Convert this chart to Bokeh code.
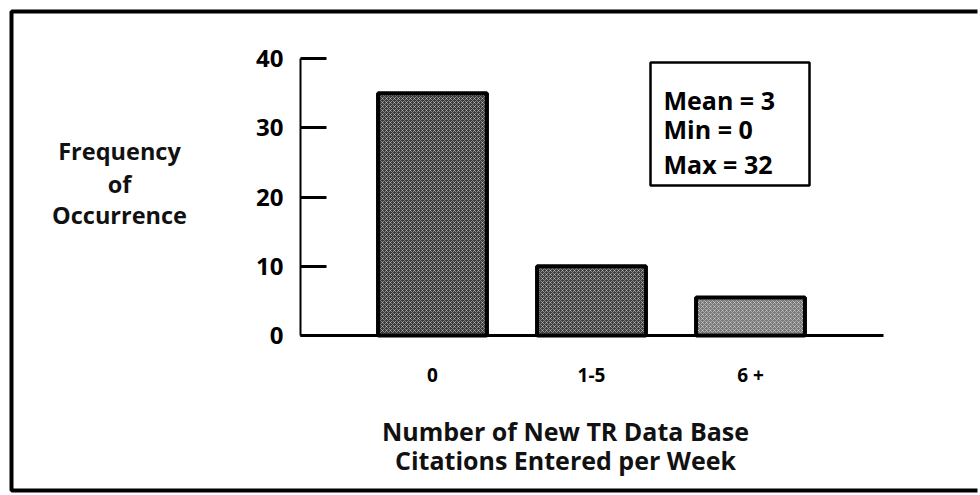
from bokeh.plotting import figure
from bokeh.models import Range1d, FixedTicker, Label, BoxAnnotation
from bokeh.embed import file_html
from bokeh.resources import INLINE

# ---- data ----
categories = ["0", "1-5", "6 +"]
frequencies = [35, 10, 5.5]
y_ticks = [0, 10, 20, 30, 40]
stats_lines = ["Mean = 3", "Min = 0", "Max = 32"]
y_title_lines = ["Frequency", "of", "Occurrence"]
x_title_lines = ["Number of New TR Data Base", "Citations Entered per Week"]

# ---- styles / layout ----
bar_fills = ["#3a3a3a", "#404040", "#787878"]
FONT = "Open Sans"

W, H = 978, 493
PX_PER_X = 159.0          # px per category step
X1_PX = 432.0             # px position of first category
PX_PER_Y = 277.0 / 40.0   # px per frequency unit
Y0_PX = 335.0             # px position of zero line

X_START = 1 - X1_PX / PX_PER_X
X_END = 1 + (W - X1_PX) / PX_PER_X
Y_END = Y0_PX / PX_PER_Y
Y_START = -(H - Y0_PX) / PX_PER_Y

def dx(px):  # canvas x pixel -> data x
    return 1 + (px - X1_PX) / PX_PER_X

def dy(py):  # canvas y pixel -> data y
    return (Y0_PX - py) / PX_PER_Y

xs = [i + 1 for i in range(len(categories))]

p = figure(width=W, height=H, output_backend="svg", toolbar_location=None,
           x_range=Range1d(X_START, X_END), y_range=Range1d(Y_START, Y_END),
           min_border=0)
p.outline_line_color = None
p.xgrid.visible = False
p.ygrid.visible = False
p.background_fill_color = "white"
p.border_fill_color = "white"

p.vbar(x=xs, top=frequencies, width=0.685, bottom=0,
       fill_color=bar_fills, line_color="black", line_width=4,
       hatch_pattern="x", hatch_scale=4, hatch_color="white",
       hatch_alpha=0.4, hatch_weight=1)

# y axis
ya = p.yaxis[0]
ya.fixed_location = dx(300)
ya.bounds = (y_ticks[0], y_ticks[-1])
ya.ticker = FixedTicker(ticks=y_ticks)
ya.minor_tick_line_color = None
ya.major_tick_in = 26
ya.major_tick_out = 0
ya.major_tick_line_width = 3
ya.axis_line_width = 2
ya.major_label_standoff = 17
ya.major_label_text_font = FONT
ya.major_label_text_font_style = "bold"
ya.major_label_text_font_size = "24px"
ya.major_label_text_color = "black"

# x axis
xa = p.xaxis[0]
xa.fixed_location = 0
xa.bounds = (dx(300), dx(883))
xa.ticker = FixedTicker(ticks=xs)
xa.major_label_overrides = {x: c for x, c in zip(xs, categories)}
xa.minor_tick_line_color = None
xa.major_tick_in = 0
xa.major_tick_out = 0
xa.axis_line_width = 3
xa.major_label_standoff = 26
xa.major_label_text_font = FONT
xa.major_label_text_font_style = "bold"
xa.major_label_text_font_size = "19px"
xa.major_label_text_color = "black"

# y title (horizontal, three lines)
for txt, base in zip(y_title_lines, [150, 183, 214]):
    p.add_layout(Label(x=dx(119), y=dy(base), text=txt, text_align="center",
                       text_baseline="alphabetic", text_font=FONT,
                       text_font_style="bold", text_font_size="23.5px",
                       text_color="#111111"))

# x title (two lines)
for txt, base in zip(x_title_lines, [430, 459]):
    p.add_layout(Label(x=dx(565), y=dy(base), text=txt, text_align="center",
                       text_baseline="alphabetic", text_font=FONT,
                       text_font_style="bold", text_font_size="25px",
                       text_color="#111111"))

# stats box
p.add_layout(BoxAnnotation(left=dx(650), right=dx(809), top=dy(62), bottom=dy(185),
                           fill_color="white", fill_alpha=1.0,
                           line_color="black", line_alpha=1.0, line_width=2.5))
for txt, base in zip(stats_lines, [99, 128, 163]):
    p.add_layout(Label(x=dx(663), y=dy(base), text=txt, text_align="left",
                       text_baseline="alphabetic", text_font=FONT,
                       text_font_style="bold", text_font_size="25px",
                       text_color="black"))

# outer frame around whole chart (left, top, bottom edges; right edge is off-page)
p.line(x=[dx(W - 1), dx(11), dx(11), dx(W - 1)],
       y=[dy(11), dy(11), dy(490), dy(490)],
       line_color="black", line_width=4, line_cap="butt")

open("out.html", "w").write(file_html(p, INLINE))
